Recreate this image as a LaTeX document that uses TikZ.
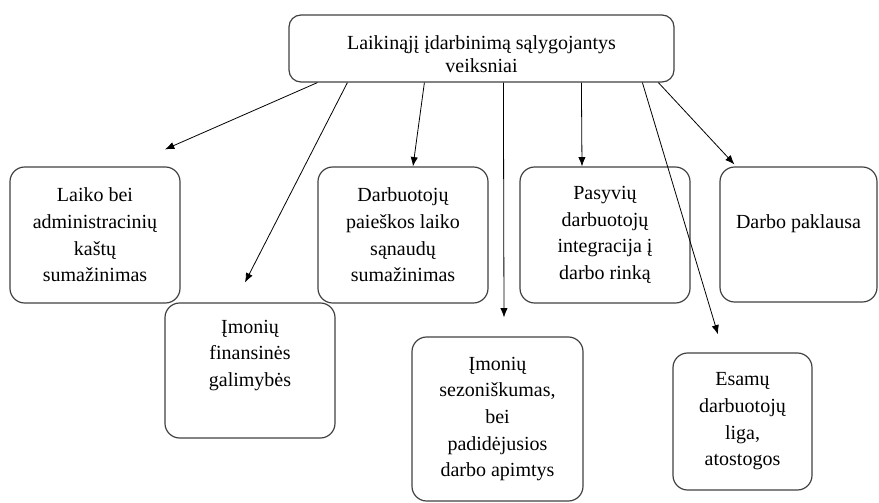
\documentclass[tikz,border=0pt]{standalone}
\usepackage{fontspec}
\setmainfont{Liberation Serif}
\usetikzlibrary{calc}
\usetikzlibrary{arrows.meta}
\tikzstyle{cause} = [draw=black!75, line width=0.9pt, rounded corners=11pt, align=center, inner sep=0pt, font=\fontsize{15}{20}\selectfont, minimum width=127.5pt, minimum height=102pt]
\tikzstyle{flow} = [draw, line width=0.6pt, -{Latex[length=7pt,width=5.5pt]}]

\begin{document}
\begin{tikzpicture}[x=0.75pt, y=-0.75pt]
	\useasboundingbox (0,0) rectangle (879,503);
	\node[cause, rounded corners=9pt, minimum width=288.75pt, minimum height=50.25pt, font=\fontsize{15}{17.5}\selectfont, text height=36pt] (factors) at (481.5,48.5) {Laikinąjį įdarbinimą sąlygojantys\\veiksniai};
	\node[cause] (costs) at (95,235) {Laiko bei\\administracinių\\kaštų\\sumažinimas};
	\node[cause, minimum height=101.25pt, text depth=26pt] (finance) at (250,370.5) {Įmonių\\finansinės\\galimybės};
	\node[cause] (search) at (403,235) {Darbuotojų\\paieškos laiko\\sąnaudų\\sumažinimas};
	\node[cause, minimum width=128.25pt, minimum height=123pt] (season) at (497.5,419) {Įmonių\\sezoniškumas,\\bei\\padidėjusios\\darbo apimtys};
	\node[cause] (passive) at (605,235) {Pasyvių\\darbuotojų\\integracija į\\darbo rinką};
	\node[cause, minimum width=117.75pt, minimum height=101.25pt, text depth=20pt] (demand) at (798.5,234.5) {Darbo paklausa};
	\node[cause, minimum width=104.25pt, minimum height=102.75pt] (illness) at (742.5,421.5) {Esamų\\darbuotojų\\liga,\\atostogos};
	
	\path[flow] ($(factors.south west)+(29,0)$) -- ($(costs.north)+(70,-17)$);
	\path[flow] ($(factors.south west)+(59,0)$) -- ($(finance.north)+(-5,-20)$);
	\path[flow] ($(factors.south west)+(136,0)$) -- ($(search.north)+(10,0)$);
	\path[flow] ($(factors.south west)+(215,0)$) -- ($(season.north)+(6.5,-19)$);
	\path[flow] ($(factors.south west)+(293,0)$) -- ($(passive.north)+(-23,0)$);
	\path[flow] ($(factors.south west)+(354,0)$) -- ($(illness.north)+(-24.5,-18)$);
	\path[flow] ($(factors.south west)+(370,0)$) -- ($(demand.north west)+(15,-2)$);
\end{tikzpicture}
\end{document}
